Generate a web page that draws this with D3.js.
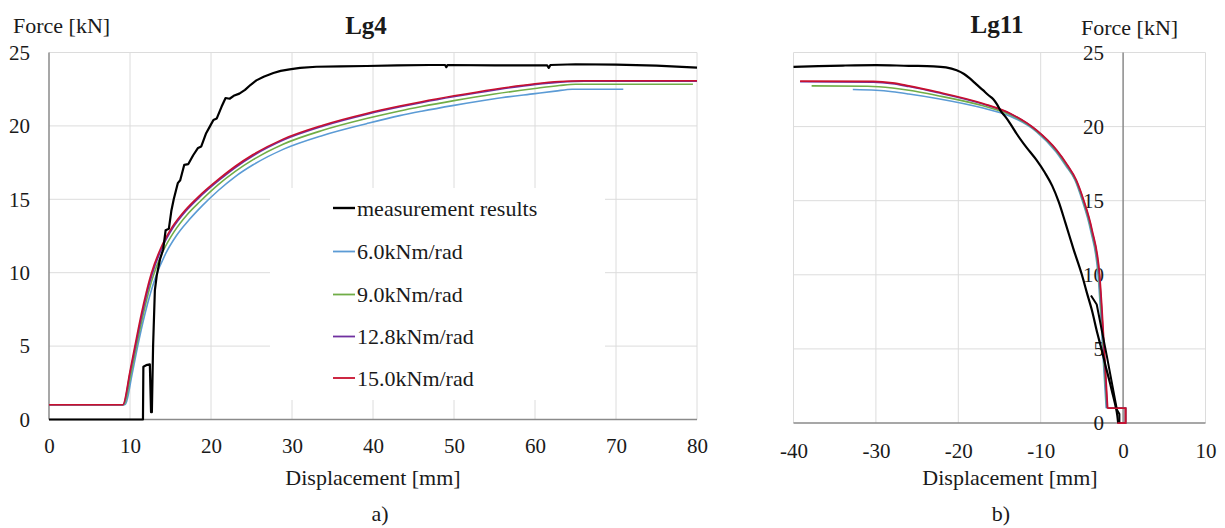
<!DOCTYPE html>
<html><head><meta charset="utf-8">
<script src="https://cdn.jsdelivr.net/npm/d3@7"></script>
<style>
html,body{margin:0;padding:0;background:#fff;}
svg{display:block;font-family:"Liberation Serif","Times New Roman",serif;}
</style></head><body>
<svg id="c" width="1225" height="528" font-family="Liberation Serif, Times New Roman, serif"></svg>
<script>
// ---------- data ----------
const lg4XTicks = [0,10,20,30,40,50,60,70,80];
const lg11XTicks = [-40,-30,-20,-10,0,10];
const forceTicks = [0,5,10,15,20,25];
const seriesNames = ["measurement results","6.0kNm/rad","9.0kNm/rad","12.8kNm/rad","15.0kNm/rad"];
const seriesColors = ["#000000","#5b9bd5","#70ad47","#7030a0","#c8102e"];

// Lg4 (displacement mm, force kN)
const lg4Measured = [[0,0],[11.6,0],[11.65,3.6],[12.0,3.7],[12.45,3.75],[12.6,0.5],[12.7,0.5],[12.85,5.0],[13.07,8.8],[13.3,9.8],[13.7,10.9],[14.1,11.6],[14.4,12.9],[14.8,13.0],[15.1,14.2],[15.4,15.0],[15.9,16.1],[16.2,16.3],[16.7,17.35],[17.2,17.4],[17.8,18.0],[18.4,18.5],[18.8,18.6],[19.4,19.5],[19.9,20.0],[20.3,20.4],[20.7,20.5],[21.3,21.3],[21.8,21.9],[22.3,21.85],[22.8,22.05],[23.5,22.2],[24.2,22.45],[24.9,22.8],[25.6,23.1],[26.5,23.35],[27.7,23.6],[28.6,23.75],[29.7,23.85],[31,23.95],[33,24.03],[36,24.06],[39.2,24.08],[43,24.12],[47,24.15],[48.9,24.15],[49.05,24.0],[49.2,24.15],[55,24.12],[61.5,24.12],[61.7,23.95],[61.9,24.15],[65,24.2],[70,24.18],[75,24.1],[80,23.97]];
const lg4K60 = [[0,1],[9.35,1],[10.3,3.2],[10.95,5.0],[11.85,7.2],[13.1,9.6],[14.4,11.3],[15.7,12.5],[17.3,13.6],[18.9,14.55],[20.9,15.6],[23,16.55],[25.2,17.35],[28.9,18.4],[33.8,19.35],[39.2,20.15],[43.3,20.7],[46,21.0],[50,21.4],[55,21.85],[60,22.2],[62.5,22.37],[64.6,22.5],[70.9,22.5]];
const lg4K90 = [[0,1],[9.2,1],[10.15,3.2],[10.8,5.0],[11.65,7.2],[12.85,9.75],[14.15,11.55],[15.45,12.8],[17.05,13.95],[18.65,14.85],[20.9,16.0],[23,16.9],[25.2,17.7],[28.9,18.75],[33.8,19.7],[39.2,20.5],[43.3,21.02],[46,21.32],[50,21.72],[55,22.17],[60,22.55],[63,22.75],[65,22.84],[79.5,22.84]];
const lg4K128 = [[0,1],[9.15,1],[10.05,3.3],[10.68,5.0],[11.5,7.2],[12.7,9.85],[14.0,11.75],[15.3,13.05],[16.9,14.2],[18.5,15.1],[21.0,16.3],[23.1,17.2],[25.3,18.0],[29,19.05],[33.9,20.0],[39.3,20.8],[43.4,21.3],[46.1,21.6],[50.1,22.0],[55.1,22.45],[60.1,22.83],[63.1,22.98],[66.1,23.05],[80,23.05]];
const lg4K150 = [[0,1],[9.1,1],[10.0,3.3],[10.6,5.0],[11.4,7.2],[12.6,9.9],[13.9,11.8],[15.2,13.1],[16.8,14.25],[18.4,15.15],[20.9,16.35],[23,17.25],[25.2,18.05],[28.9,19.1],[33.8,20.05],[39.2,20.85],[43.3,21.35],[46,21.65],[50,22.05],[55,22.5],[60,22.87],[63,23.02],[66,23.08],[80,23.08]];

// Lg11
const lg11Measured = [[-40,24.03],[-37,24.08],[-34,24.12],[-30,24.15],[-26,24.1],[-23,24.07],[-21.5,24.0],[-20.2,23.8],[-19.3,23.55],[-18.6,23.25],[-17.8,22.85],[-17,22.46],[-16.4,22.15],[-15.75,21.85],[-15.3,21.5],[-14.9,21.1],[-14.2,20.6],[-13.7,20.2],[-12.9,19.5],[-12.1,18.87],[-11.3,18.3],[-10.5,17.74],[-9.5,16.9],[-8.6,16.0],[-7.8,14.9],[-7.0,13.5],[-6.0,11.7],[-5.0,10.0],[-4.4,8.8],[-3.8,7.64],[-3.1,6.0],[-2.6,4.94],[-2.1,3.8],[-1.59,2.7],[-1.2,1.8],[-0.9,1.1],[-0.7,0.5],[-0.6,0]];
const lg11MeasuredBranch = [[-3.9,8.6],[-3.2,8.0],[-2.0,4.6],[-0.75,0.9],[-0.45,0.6],[-0.45,0]];
const lg11K60 = [[-32.8,22.5],[-30,22.45],[-28,22.35],[-26,22.2],[-22.6,21.9],[-17,21.25],[-13.7,20.7],[-10.5,19.65],[-8.15,18.3],[-6.95,17.35],[-5.85,16.4],[-4.98,15.05],[-3.96,13.03],[-3.04,10.0],[-2.75,7.64],[-2.4,4.2],[-2.05,1.0]];
const lg11K90 = [[-37.8,22.75],[-31,22.72],[-28,22.6],[-26,22.45],[-22.6,22.1],[-17,21.4],[-13.7,20.8],[-10.5,19.7],[-8.1,18.35],[-6.9,17.4],[-5.79,16.4],[-4.9,15.05],[-3.88,13.03],[-2.96,10.0],[-2.67,7.64],[-2.32,4.2],[-1.97,1.0]];
const lg11K128 = [[-39.2,23.03],[-30.3,23.0],[-28,22.9],[-26,22.7],[-22.6,22.3],[-17,21.52],[-13.7,20.87],[-10.5,19.74],[-8.08,18.4],[-6.83,17.43],[-5.72,16.4],[-4.83,15.05],[-3.81,13.03],[-2.89,10.0],[-2.6,7.64],[-2.25,4.2],[-1.92,1.0]];
const lg11K150 = [[-39.2,23.07],[-30.3,23.05],[-28,22.95],[-26,22.75],[-22.6,22.35],[-17,21.56],[-13.7,20.89],[-10.5,19.76],[-8.06,18.42],[-6.8,17.45],[-5.67,16.4],[-4.78,15.05],[-3.76,13.03],[-2.84,10.0],[-2.55,7.64],[-2.2,4.2],[-1.87,1.0]];
const lg11ModelTail = [[-1.87,1.0],[0.3,1.0],[0.3,0],[-0.7,0]];

// ---------- drawing ----------
const svg = d3.select("#c");
const FF = '"Liberation Serif","Times New Roman",serif';
const FONT = 21;
const gridColor = "#dcdcdc", axisColor = "#8a8a8a", textColor = "#1a1a1a";

function panel(opts){
  const {xDomain, xRange, yRange, xTicks, yAxisAt, models, measured, branch, tail} = opts;
  const x = d3.scaleLinear().domain(xDomain).range(xRange);
  const y = d3.scaleLinear().domain([0,25]).range(yRange);
  const g = svg.append("g");
  g.selectAll(".vg").data(xTicks.filter(t => t !== yAxisAt)).join("line")
    .attr("x1", d=>x(d)).attr("x2", d=>x(d)).attr("y1", y(0)).attr("y2", y(25))
    .attr("stroke", gridColor).attr("stroke-width", 1);
  g.selectAll(".hg").data(forceTicks.filter(t=>t>0)).join("line")
    .attr("x1", x(xDomain[0])).attr("x2", x(xDomain[1])).attr("y1", d=>y(d)).attr("y2", d=>y(d))
    .attr("stroke", gridColor).attr("stroke-width", 1);
  if (opts.legendBox) {
    g.append("rect").attr("x", opts.legendBox[0]).attr("y", opts.legendBox[1])
      .attr("width", opts.legendBox[2]).attr("height", opts.legendBox[3]).attr("fill", "#fff");
  }
  g.append("line").attr("x1", x(yAxisAt)).attr("x2", x(yAxisAt)).attr("y1", y(0)).attr("y2", y(25))
    .attr("stroke", axisColor).attr("stroke-width", 1.5);
  g.append("line").attr("x1", x(xDomain[0])).attr("x2", x(xDomain[1])).attr("y1", y(0)).attr("y2", y(0))
    .attr("stroke", axisColor).attr("stroke-width", 1.5);
  const fmt = d => String(d);
  const xa = g.append("g").attr("transform", `translate(0,${y(0)})`)
    .call(d3.axisBottom(x).tickValues(xTicks).tickSize(0).tickPadding(opts.xTickPad).tickFormat(fmt));
  const ya = g.append("g").attr("transform", `translate(${x(yAxisAt)},0)`)
    .call(d3.axisLeft(y).tickValues(forceTicks).tickSize(0).tickPadding(19).tickFormat(fmt));
  [xa, ya].forEach(a => {
    a.attr("font-family", FF).attr("font-size", FONT);
    a.select(".domain").remove();
    a.selectAll("text").attr("font-size", FONT).attr("fill", textColor).attr("font-family", FF);
  });
  const line = d3.line().x(d=>x(d[0])).y(d=>y(d[1]));
  const smooth = d3.line().x(d=>x(d[0])).y(d=>y(d[1])).curve(d3.curveMonotoneX);
  models.forEach((m,i) => {
    g.append("path").datum(m).attr("d", smooth).attr("fill","none")
      .attr("stroke", seriesColors[i+1]).attr("stroke-width", 1.6).attr("stroke-linejoin","round");
    if (tail) g.append("path").datum(tail).attr("d", line).attr("fill","none")
      .attr("stroke", seriesColors[i+1]).attr("stroke-width", 1.6);
  });
  g.append("path").datum(measured).attr("d", opts.measSmooth ? smooth : line).attr("fill","none")
    .attr("stroke", seriesColors[0]).attr("stroke-width", 2.2).attr("stroke-linejoin","round");
  if (branch) g.append("path").datum(branch).attr("d", line).attr("fill","none")
    .attr("stroke", seriesColors[0]).attr("stroke-width", 2.0).attr("stroke-linejoin","round");
  if (tail) g.append("path").datum(tail).attr("d", line).attr("fill","none")
      .attr("stroke", seriesColors[4]).attr("stroke-width", 1.6);
  return {x, y, g};
}

panel({
  xDomain:[0,80], xRange:[49,697], yRange:[419.5,52.5], xTicks: lg4XTicks, yAxisAt:0, xTickPad: 19,
  models:[lg4K60, lg4K90, lg4K128, lg4K150], measured: lg4Measured,
  legendBox:[270,188,335,212]
});
panel({
  xDomain:[-40,10], xRange:[793.5,1205.5], yRange:[423,52.5], xTicks: lg11XTicks, yAxisAt:0, xTickPad: 20,
  models:[lg11K60, lg11K90, lg11K128, lg11K150], measured: lg11Measured, branch: lg11MeasuredBranch,
  tail: lg11ModelTail, measSmooth: true
});

// legend
const legendY = [208, 251.5, 294.5, 336.5, 378];
const leg = svg.append("g");
seriesNames.forEach((n,i) => {
  leg.append("line").attr("x1",333).attr("x2",355).attr("y1",legendY[i]).attr("y2",legendY[i])
    .attr("stroke", seriesColors[i]).attr("stroke-width", i===0?2.4:1.8);
  leg.append("text").attr("x",357).attr("y",legendY[i]).attr("dy","0.35em")
    .attr("font-size",22).attr("font-family",FF).attr("fill",textColor).text(n);
});

function txt(x,y,s,size,anchor,weight){
  svg.append("text").attr("x",x).attr("y",y).attr("dy","0.35em").attr("font-size",size)
    .attr("font-family",FF).attr("text-anchor",anchor||"middle").attr("font-weight",weight||"normal")
    .attr("fill",textColor).text(s);
}
txt(13,25,"Force [kN]",22,"start");
txt(366,25,"Lg4",25,"middle","bold");
txt(373,477,"Displacement [mm]",22);
txt(380,513,"a)",22);
txt(1081,27,"Force [kN]",22,"start");
txt(997,24,"Lg11",25,"middle","bold");
txt(1010,477,"Displacement [mm]",22);
txt(1001,513,"b)",22);
</script></body></html>
